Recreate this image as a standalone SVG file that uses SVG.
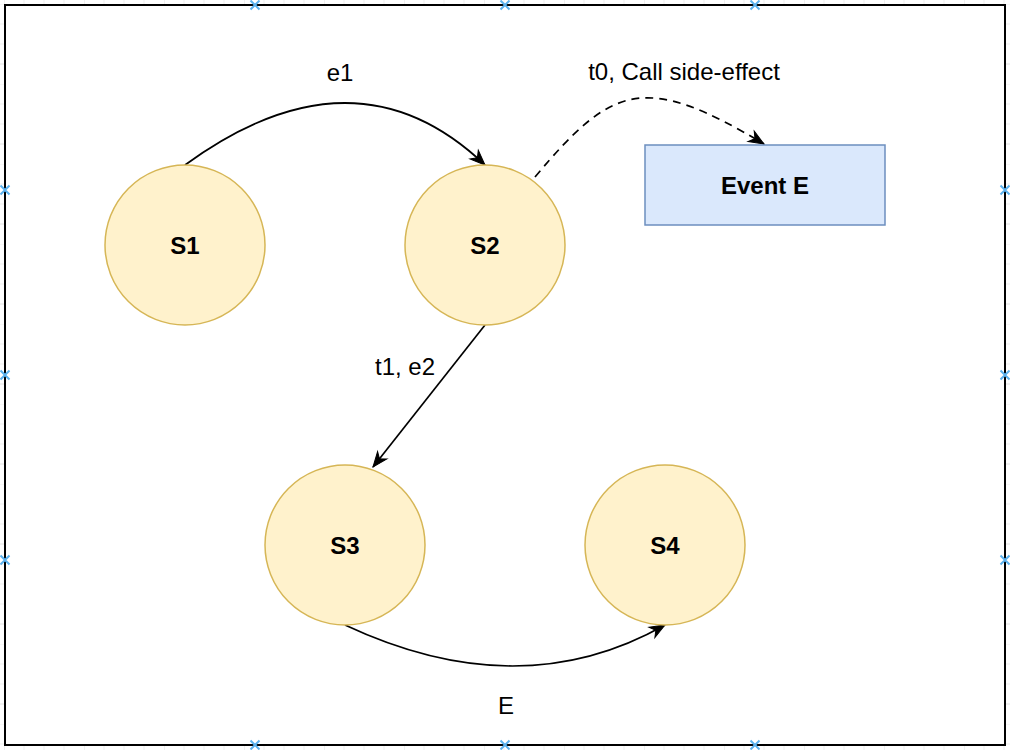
<svg xmlns="http://www.w3.org/2000/svg" width="1010" height="750" viewBox="0 0 1010 750">
  <style>
    .state { fill: #fff2cc; stroke: #d6b656; stroke-width: 1.5; }
    .event { fill: #dae8fc; stroke: #6c8ebf; stroke-width: 1.5; }
    .node-label { font-family: "Liberation Sans", Arial, Helvetica, sans-serif; font-size: 24px; font-weight: bold; fill: #000; text-anchor: middle; }
    .edge-label { font-family: "Liberation Sans", Arial, Helvetica, sans-serif; font-size: 24px; fill: #000; text-anchor: middle; }
    .edge { fill: none; stroke: #000; stroke-width: 1.7; }
    .dashed { stroke-dasharray: 8 6; }
    .handle { stroke: #5cb2ee; stroke-width: 2; fill: none; }
  </style>
  <defs>
    <pattern id="grid" x="4" y="4" width="80" height="80" patternUnits="userSpaceOnUse">
      <path d="M20,0 V80 M40,0 V80 M60,0 V80 M0,0 H80 M0,20 H80 M0,40 H80" stroke="#efefef" stroke-width="1" fill="none"/>
      <path d="M0,0 V80 M0,60 H80" stroke="#e2e2e2" stroke-width="1" fill="none"/>
    </pattern>
    <marker id="arrow" markerUnits="userSpaceOnUse" markerWidth="16" markerHeight="13" refX="15" refY="6" orient="auto" overflow="visible">
      <path d="M0,0 L15,6 L0,12 L4.5,6 Z" fill="#000" stroke="#000" stroke-width="1" stroke-dasharray="none"/>
    </marker>
  </defs>

  <rect x="0" y="0" width="1010" height="750" fill="#ffffff"/>
  <rect x="0" y="0" width="1010" height="750" fill="url(#grid)"/>
  <rect x="5" y="5" width="1000" height="740" fill="#ffffff" stroke="#000" stroke-width="2"/>

  <g id="connectors">
    <path class="edge" d="M185,165 Q355,41 485,165" marker-end="url(#arrow)"/>
    <path class="edge dashed" d="M535,177 C612,85 644,72 764,144" marker-end="url(#arrow)"/>
    <path class="edge" d="M485,325 L373,467" marker-end="url(#arrow)"/>
    <path class="edge" d="M345,625 Q520,707 665,625" marker-end="url(#arrow)"/>
    <text class="edge-label" x="340" y="81">e1</text>
    <text class="edge-label" x="684" y="80">t0, Call side-effect</text>
    <text class="edge-label" x="405" y="375">t1, e2</text>
    <text class="edge-label" x="506" y="714">E</text>
  </g>

  <g id="S1">
    <circle class="state" cx="185" cy="245" r="80"/>
    <text class="node-label" x="185" y="254">S1</text>
  </g>
  <g id="S2">
    <circle class="state" cx="485" cy="245" r="80"/>
    <text class="node-label" x="485" y="254">S2</text>
  </g>
  <g id="S3">
    <circle class="state" cx="345" cy="545" r="80"/>
    <text class="node-label" x="345" y="554">S3</text>
  </g>
  <g id="S4">
    <circle class="state" cx="665" cy="545" r="80"/>
    <text class="node-label" x="665" y="554">S4</text>
  </g>
  <g id="EventE">
    <rect class="event" x="645" y="145" width="240" height="80"/>
    <text class="node-label" x="765" y="194">Event E</text>
  </g>

  <g id="handles">
    <path class="handle" d="M250.5,0.5 l9,9 m0,-9 l-9,9 M500.5,0.5 l9,9 m0,-9 l-9,9 M750.5,0.5 l9,9 m0,-9 l-9,9
      M250.5,740.5 l9,9 m0,-9 l-9,9 M500.5,740.5 l9,9 m0,-9 l-9,9 M750.5,740.5 l9,9 m0,-9 l-9,9
      M0.5,185.5 l9,9 m0,-9 l-9,9 M0.5,370.5 l9,9 m0,-9 l-9,9 M0.5,555.5 l9,9 m0,-9 l-9,9
      M1000.5,185.5 l9,9 m0,-9 l-9,9 M1000.5,370.5 l9,9 m0,-9 l-9,9 M1000.5,555.5 l9,9 m0,-9 l-9,9"/>
  </g>
</svg>
